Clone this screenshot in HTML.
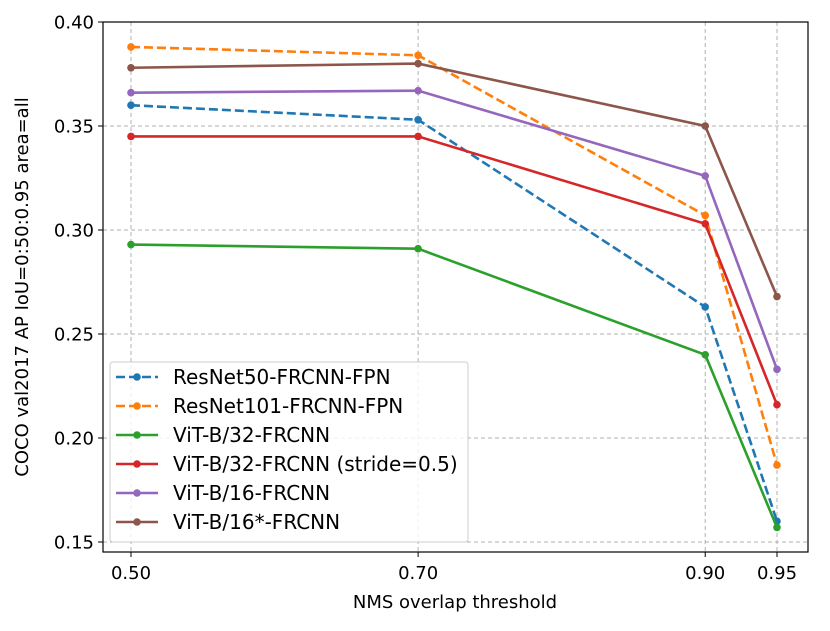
<!DOCTYPE html>
<html><head><meta charset="utf-8"><style>
body{margin:0;background:#fff;}
svg text{font-family:"DejaVu Sans","Liberation Sans",sans-serif;fill:#000;}
</style></head><body>
<svg id="chart" width="830" height="626" xmlns="http://www.w3.org/2000/svg"></svg>
<script>
const xValues=[0.50,0.70,0.90,0.95];
const xTickLabels=["0.50","0.70","0.90","0.95"];
const yTicks=[0.15,0.20,0.25,0.30,0.35,0.40];
const yTickLabels=["0.15","0.20","0.25","0.30","0.35","0.40"];
const seriesNames=["ResNet50-FRCNN-FPN","ResNet101-FRCNN-FPN","ViT-B/32-FRCNN","ViT-B/32-FRCNN (stride=0.5)","ViT-B/16-FRCNN","ViT-B/16*-FRCNN"];
const resnet50=[0.360,0.353,0.263,0.160];
const resnet101=[0.388,0.384,0.307,0.187];
const vitB32=[0.293,0.291,0.240,0.157];
const vitB32Stride=[0.345,0.345,0.303,0.216];
const vitB16=[0.366,0.367,0.326,0.233];
const vitB16Star=[0.378,0.380,0.350,0.268];
const seriesData=[resnet50,resnet101,vitB32,vitB32Stride,vitB16,vitB16Star];
const colors=["#1f77b4","#ff7f0e","#2ca02c","#d62728","#9467bd","#8c564b"];
const dashed=[true,true,false,false,false,false];

const svg=document.getElementById('chart');
const NS="http://www.w3.org/2000/svg";
const L=103,R=808,T=22,B=552;
const xMin=0.4805,xMax=0.9716,yMin=0.14519,yMax=0.40;
const xs=v=>L+(v-xMin)/(xMax-xMin)*(R-L);
const ys=v=>B-(v-yMin)/(yMax-yMin)*(B-T);
function mk(tag,attrs,parent){const e=document.createElementNS(NS,tag);for(const k in attrs)e.setAttribute(k,attrs[k]);(parent||svg).appendChild(e);return e;}

const grid=mk('g',{});


xValues.forEach((v,i)=>{
  const l=mk('line',{x1:xs(v),x2:xs(v),y1:T,y2:B,stroke:'#b0b0b0','stroke-dasharray':'4,3','stroke-width':1},grid);
  
  
  mk('line',{x1:xs(v),x2:xs(v),y1:B,y2:B+5,stroke:'#000'});
  const t=mk('text',{x:xs(v),y:B+27,'text-anchor':'middle','font-size':18});
  t.textContent=xTickLabels[i];
  
  
});
yTicks.forEach((v,i)=>{
  const l=mk('line',{x1:L,x2:R,y1:ys(v),y2:ys(v),stroke:'#b0b0b0','stroke-dasharray':'4,3','stroke-width':1},grid);
  
  
  mk('line',{x1:L-5,x2:L,y1:ys(v),y2:ys(v),stroke:'#000'});
  const t=mk('text',{x:L-9,y:ys(v)+6.5,'text-anchor':'end','font-size':18});
  t.textContent=yTickLabels[i];
  
  
});
seriesData.forEach((d,si)=>{
  const g=mk('g',{});
  
  
  const pts=d.map((v,i)=>xs(xValues[i])+','+ys(v)).join(' ');
  const attrs={points:pts,fill:'none',stroke:colors[si],'stroke-width':2.6};
  if(dashed[si])attrs['stroke-dasharray']='9,4';
  mk('polyline',attrs,g);
  d.forEach((v,i)=>{
    const c=mk('circle',{cx:xs(xValues[i]),cy:ys(v),r:3.8,fill:colors[si]},g);
    
    
  });
});
const frame=mk('rect',{x:L,y:T,width:R-L,height:B-T,fill:'none',stroke:'#000','stroke-width':1.2});


const xt=mk('text',{x:455,y:608,'text-anchor':'middle','font-size':18});
xt.textContent='NMS overlap threshold';


const yt=mk('text',{x:0,y:0,'text-anchor':'middle','font-size':18,transform:'translate(28,287) rotate(-90)'});
yt.textContent='COCO val2017 AP IoU=0:50:0.95 area=all';


const lg=mk('g',{});


mk('rect',{x:110,y:362,width:358,height:180,rx:3,fill:'#fff','fill-opacity':0.8,stroke:'#ccc'},lg);
seriesNames.forEach((n,i)=>{
  const y=377+i*29;
  const e=mk('g',{},lg);
  
  
  const a={x1:116,x2:158,y1:y,y2:y,stroke:colors[i],'stroke-width':2.6};
  if(dashed[i])a['stroke-dasharray']='9,4';
  mk('line',a,e);
  mk('circle',{cx:137,cy:y,r:3.8,fill:colors[i]},e);
  const t=mk('text',{x:173,y:y+7,'font-size':20},e);
  t.textContent=n;
});
</script>
</body></html>
